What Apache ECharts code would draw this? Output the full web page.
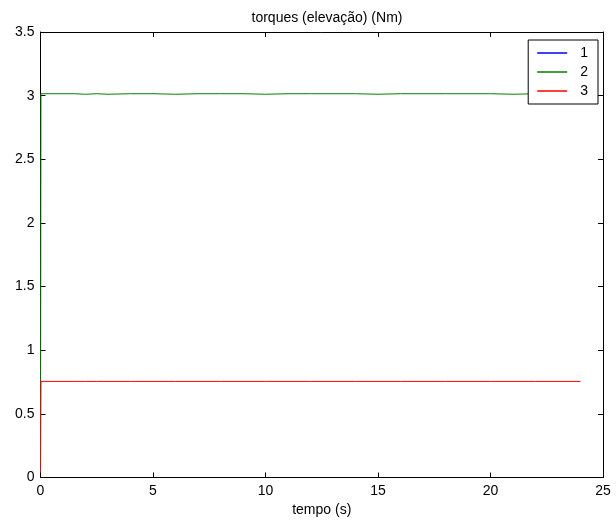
<!DOCTYPE html>
<html><head><meta charset="utf-8">
<script src="https://cdn.jsdelivr.net/npm/echarts@6/dist/echarts.min.js"></script>
<style>html,body{margin:0;padding:0;background:#fff}#c{width:616px;height:529px}</style>
</head><body><div id="c"></div>
<script>
const titleText = 'torques (elevação) (Nm)';
const xName = 'tempo (s)';
const seriesNames = ['1', '2', '3'];
const time = [0, 0.02, 1, 1.5, 2, 2.5, 3, 4, 5, 6, 7, 8, 9, 10, 11, 12, 13, 14, 15, 16, 17, 18, 19, 20, 21, 22, 23, 24];
const torque1 = [0, 0, 0, 0, 0, 0, 0, 0, 0, 0, 0, 0, 0, 0, 0, 0, 0, 0, 0, 0, 0, 0, 0, 0, 0, 0, 0, 0];
const torque2 = [0, 3.015, 3.015, 3.015, 3.011, 3.015, 3.011, 3.015, 3.015, 3.011, 3.015, 3.015, 3.015, 3.011, 3.015, 3.015, 3.015, 3.015, 3.011, 3.015, 3.015, 3.015, 3.015, 3.015, 3.011, 3.015, 3.015, 3.015];
const torque3 = [0, 0.755, 0.755, 0.755, 0.755, 0.755, 0.755, 0.755, 0.755, 0.755, 0.755, 0.755, 0.755, 0.755, 0.755, 0.755, 0.755, 0.755, 0.755, 0.755, 0.755, 0.755, 0.755, 0.755, 0.755, 0.755, 0.755, 0.755];
const colors = ['#0000ff', '#008000', '#ff0000'];

const pair = (ys) => time.map((t, i) => [t, ys[i]]);
const font = '"Liberation Sans", Arial, sans-serif';
const chart = echarts.init(document.getElementById('c'));
const axisCommon = () => ({
  axisLine: { show: true, onZero: false, lineStyle: { color: '#000', width: 1 } },
  axisTick: { show: true, inside: true, length: 5, lineStyle: { color: '#000' } },
  splitLine: { show: false }
});
chart.setOption({
  animation: false,
  title: { text: titleText, left: 322, top: 6, textAlign: 'center',
    textStyle: { fontFamily: font, fontSize: 14, fontWeight: 'normal', color: '#000' } },
  grid: { left: 40.5, right: 13, top: 32, bottom: 51.5, show: false },
  legend: {
    data: seriesNames.map(n => ({ name: n, icon: 'rect' })), orient: 'vertical', right: 18, top: 40,
    backgroundColor: '#fff', borderColor: '#000', borderWidth: 1,
    padding: [6, 10, 6, 9], itemGap: 5, itemWidth: 30, itemHeight: 1.5,
    textStyle: { fontFamily: font, fontSize: 14, color: '#000', lineHeight: 14, padding: [0, 0, 0, 8] }
  },
  xAxis: [
    Object.assign({ type: 'value', min: 0, max: 25, interval: 5, position: 'bottom', z: 10,
      name: xName, nameLocation: 'middle', nameGap: 24,
      nameTextStyle: { fontFamily: font, fontSize: 14, color: '#000' },
      axisLabel: { fontFamily: font, fontSize: 14, color: '#000', margin: 7 } }, axisCommon()),
    Object.assign({ type: 'value', min: 0, max: 25, interval: 5, position: 'top', z: 10,
      axisLabel: { show: false } }, axisCommon())
  ],
  yAxis: [
    Object.assign({ type: 'value', min: 0, max: 3.5, interval: 0.5, position: 'left', z: 1,
      axisLabel: { fontFamily: font, fontSize: 14, color: '#000', margin: 6 } }, axisCommon()),
    Object.assign({ type: 'value', min: 0, max: 3.5, interval: 0.5, position: 'right', z: 10,
      axisLabel: { show: false } }, axisCommon())
  ],
  series: seriesNames.map((n, i) => ({
    name: n, type: 'line', symbol: 'none', xAxisIndex: 0, yAxisIndex: 0, z: i === 0 ? 0 : 2,
    data: pair([torque1, torque2, torque3][i]),
    lineStyle: { color: colors[i], width: 1 }, itemStyle: { color: colors[i] }
  }))
});
</script></body></html>
